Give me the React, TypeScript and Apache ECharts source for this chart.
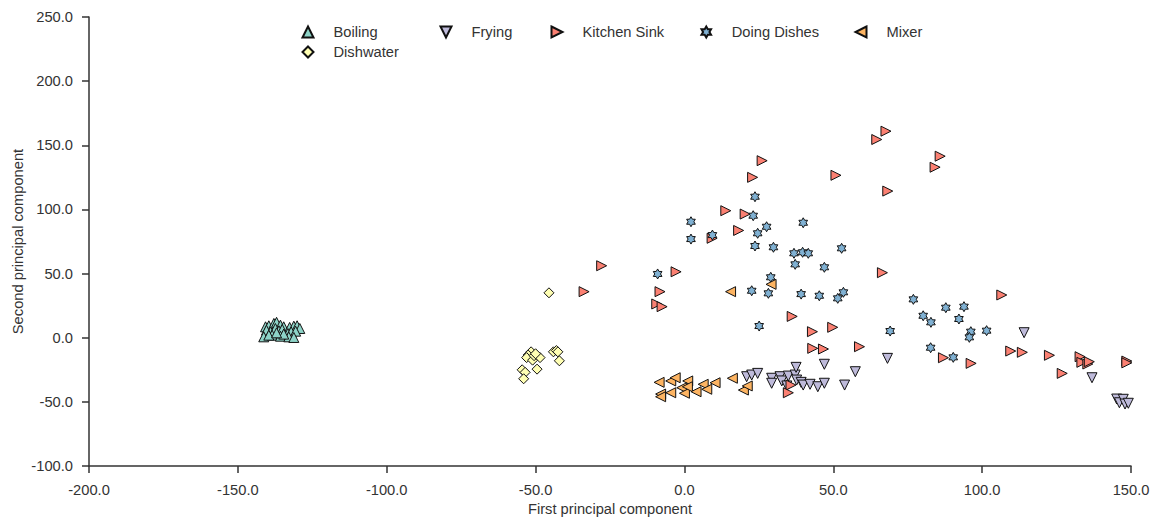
import React, { useEffect, useRef } from "react";
import * as echarts from "echarts";

const seriesNames = ["Boiling", "Frying", "Kitchen Sink", "Doing Dishes", "Mixer", "Dishwater"];
const seriesColors = ["#8dd3c7", "#bebada", "#fb8072", "#80b1d3", "#fdb462", "#ffffb3"];

const boiling: number[][] = [
  [-140.7, 8.5], [-139.6, 9.3], [-137.9, 11.1], [-137, 12], [-135.7, 9.8], [-134.6, 8.5],
  [-132.6, 8], [-131.2, 9], [-130.1, 9.3], [-129.2, 7.2], [-140.4, 5.9], [-139, 4.6],
  [-137.4, 7.2], [-136.2, 5.4], [-135.1, 6.5], [-133.2, 3.3], [-132.1, 4.6], [-130.6, 5.1],
  [-141.3, 0.7], [-138.5, 2], [-135.7, 1.2], [-132.9, 0.7], [-131.2, 0.2], [-139.6, 2],
  [-134.6, 2.8], [-137, 3.8],
];
const frying: number[][] = [
  [20.9, -30.4], [22.6, -29.1], [24.6, -27.8], [29.3, -31.6], [29.3, -35.5], [32.1, -30.4],
  [32.7, -33.7], [34.9, -29.9], [37.2, -29.1], [37.5, -23.1], [34.4, -37.6], [37.7, -33],
  [39.2, -34.8], [39.9, -36.9], [42.2, -36.3], [44.8, -38.2], [47, -35.5], [47, -20.7],
  [53.8, -36.9], [57.4, -26.5], [68.2, -16.1], [114.1, 3.9], [136.9, -31.2], [145.2, -47.8],
  [146.1, -50.7], [147.4, -48], [148, -51.7], [149.1, -51.1],
];
const kitchenSink: number[][] = [
  [67.7, 161], [64.6, 154.5], [85.9, 141.5], [84.2, 132.9], [26.1, 138], [22.9, 125],
  [50.9, 126.6], [68.3, 114.3], [13.9, 99], [20.4, 96.4], [18.2, 83.6], [9.3, 77.5],
  [-27.8, 56.1], [-33.7, 35.9], [-2.8, 51.4], [-8.2, 35.9], [-9.3, 26.3], [-7.5, 24.2],
  [66.5, 50.7], [106.6, 33.3], [36.2, 16.6], [43, 4.7], [49.8, 8.1], [43.1, -8.3],
  [46.7, -8.8], [58.8, -7], [35.8, -36.9], [34.9, -42.9], [87, -15.6], [96.3, -20],
  [109.6, -10.4], [113.5, -11.4], [122.6, -13.7], [126.9, -27.8], [132.9, -14.8],
  [133.5, -19.2], [135.5, -20.5], [136, -18.7], [148.6, -18.2], [148.6, -19.6],
];
const doingDishes: number[][] = [
  [23.7, 109.9], [23.1, 95.1], [2.2, 90.4], [2.2, 76.9], [9.4, 80], [27.6, 86.5],
  [24.6, 81.4], [39.9, 89.6], [23.7, 71.5], [29.9, 70.5], [36.8, 65.8], [39.7, 66.6],
  [41.6, 65.8], [52.8, 69.7], [-9, 49.7], [37.2, 57.2], [47, 54.9], [29, 47.1],
  [22.6, 36.6], [28.2, 34.6], [39.2, 34], [45.3, 32.7], [53.4, 35.4], [51.5, 30.7],
  [25.1, 9.1], [69.1, 5.2], [76.9, 29.9], [80.2, 17.1], [82.8, 12], [87.8, 23.4],
  [93.9, 24.2], [92.2, 14.6], [96.2, 4.7], [95.7, 0.3], [101.5, 5.5], [82.7, -7.8],
  [90.3, -15.3],
];
const mixer: number[][] = [
  [15.5, 35.9], [29.1, 41.6], [-8.5, -34.8], [-4.6, -33.7], [-3.1, -31.2], [1.1, -33.7],
  [-8, -43.9], [-8, -46], [-4.6, -42.9], [-0.9, -39], [0, -43.3], [1, -38.2],
  [3.9, -42.1], [6.3, -36.3], [7.5, -40.2], [10.3, -35.1], [16.1, -31.6], [19.8, -40.8],
  [21.1, -37.6],
];
const dishwater: number[][] = [
  [-45.5, 35], [-51.5, -11], [-52.5, -13.5], [-53, -15.5], [-51, -17.5], [-50.5, -14],
  [-48.5, -15.5], [-44, -11], [-43, -10], [-42.5, -11], [-42, -18], [-54.5, -25],
  [-53.5, -27], [-54, -32], [-49.5, -24.5], [-50, -12.5],
];

const xTicks = { min: -200, max: 150, interval: 50 };
const yTicks = { min: -100, max: 250, interval: 50 };

const STAR =
  "path://M10,0 L12.887,5 L18.66,5 L15.77,10 L18.66,15 L12.887,15 L10,20 L7.113,15 L1.34,15 L4.23,10 L1.34,5 L7.113,5 Z";
const symbols = [
  "triangle",
  "path://M0,0 L10,0 L5,10 Z",
  "path://M0,0 L10,5 L0,10 Z",
  STAR,
  "path://M10,0 L0,5 L10,10 Z",
  "diamond",
];
const sizes = [10, 10, 10, 10, 10, 10];
const allData = [boiling, frying, kitchenSink, doingDishes, mixer, dishwater];

// legend positions (icon centre x, row centre y)
const legendPos: number[][] = [
  [307, 33], [445, 33], [556, 33], [706, 33], [860, 33], [307, 53],
];

const FONT = "'Liberation Sans', Arial, Helvetica, sans-serif";

export default function App() {
  const ref = useRef<HTMLDivElement>(null);
  useEffect(() => {
    document.body.style.margin = "0";
    if (!ref.current) return;
    const chart = echarts.init(ref.current, undefined, { renderer: "svg" });
    const axisCommon = {
      nameLocation: "middle" as const,
      nameTextStyle: { fontSize: 14.7, color: "#333", fontFamily: FONT },
      nameMoveOverlap: false,
      axisLine: { show: true, onZero: false, lineStyle: { color: "#333", width: 1.5 } },
      axisTick: { show: true, inside: false, length: 7, lineStyle: { color: "#333", width: 1.5 } },
      axisLabel: {
        margin: 16,
        fontSize: 14.7,
        color: "#333",
        fontFamily: FONT,
        formatter: (v: number) => v.toFixed(1),
      },
      splitLine: { show: false },
    };
    chart.setOption({
      animation: false,
      grid: { left: 89, right: 22, top: 17, bottom: 55, containLabel: false },
      xAxis: {
        type: "value",
        ...axisCommon,
        name: "First principal component",
        nameGap: 35,
        min: xTicks.min,
        max: xTicks.max,
        interval: xTicks.interval,
      },
      yAxis: {
        type: "value",
        ...axisCommon,
        name: "Second principal component",
        nameGap: 64,
        min: yTicks.min,
        max: yTicks.max,
        interval: yTicks.interval,
      },
      legend: seriesNames.map((n, i) => ({
        data: [n],
        left: legendPos[i][0] - 5.5,
        top: legendPos[i][1] - 8.5,
        padding: 0,
        itemWidth: 11,
        itemHeight: 11,
        selectedMode: false,
        textStyle: {
          fontSize: 14.7,
          color: "#333",
          fontFamily: FONT,
          padding: [0, 0, 0, 15],
        },
      })),
      series: seriesNames.map((n, i) => ({
        name: n,
        type: "scatter",
        data: allData[i],
        symbol: symbols[i],
        symbolSize: sizes[i],
        symbolKeepAspect: true,
        itemStyle: {
          color: seriesColors[i],
          borderColor: "#111",
          borderWidth: 1,
          opacity: 1,
        },
      })),
    });
    return () => chart.dispose();
  }, []);
  return <div ref={ref} style={{ width: 1153, height: 521 }} />;
}
